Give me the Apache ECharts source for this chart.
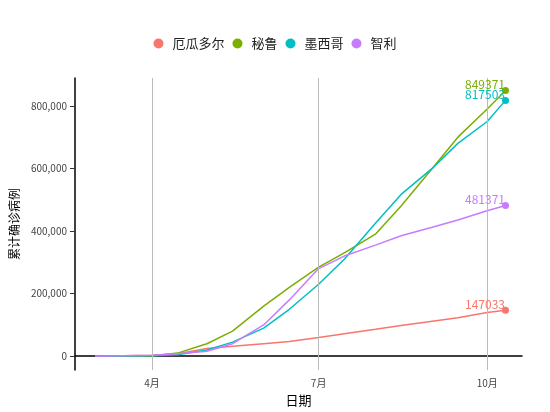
<!DOCTYPE html>
<html><head><meta charset="utf-8">
<script src="https://cdn.jsdelivr.net/npm/echarts@6/dist/echarts.min.js"></script>
<style>body{margin:0}#c{width:550px;height:412px}</style></head>
<body><div id="c"></div>
<script>
const dates = ['2020-03-01','2020-04-01','2020-04-15','2020-05-01','2020-05-15','2020-06-01','2020-06-15','2020-07-01','2020-07-15','2020-08-01','2020-08-15','2020-09-01','2020-09-15','2020-10-01','2020-10-11'];
const ecuador = [0,3000,8000,25000,32000,40000,47000,60000,72000,86000,98000,112000,123000,140000,147033];
const peru = [0,1000,10000,40000,80000,160000,220000,285000,330000,390000,480000,600000,700000,790000,849371];
const mexico = [0,1500,5000,20000,45000,90000,150000,230000,310000,425000,517000,600000,680000,750000,817503];
const chile = [0,3000,8000,16000,40000,100000,180000,280000,320000,355000,385000,412000,435000,465000,481371];
const names = ['厄瓜多尔','秘鲁','墨西哥','智利'];
const colors = ['#F8766D','#7CAE00','#00BFC4','#C77CFF'];
const yTicks = [0,200000,400000,600000,800000];
const xTicks = ['2020-04-01','2020-07-01','2020-10-01'];
const F = 'Noto Sans CJK SC';
const T = s => Date.parse(s+'T00:00:00Z');
const xt = xTicks.map(T);
const vals = [ecuador, peru, mexico, chile];
const series = vals.map((v,i)=>({
  name: names[i], type:'line', symbol:'none', color: colors[i],
  lineStyle:{width:1.5},
  data: dates.map((d,j)=>[T(d),v[j]]),
  markPoint: {symbol:'circle', symbolSize:7, itemStyle:{color:colors[i]},
    data:[{coord:[T(dates[dates.length-1]), v[v.length-1]], value:v[v.length-1]}],
    label:{show:true, position:'left', offset:[8,-6], color:colors[i], fontSize:12, fontFamily:F}},
  markLine: i===0 ? {silent:true, symbol:'none', label:{show:false}, lineStyle:{color:'#bbb', type:'solid', width:1},
    data: xt.map(t=>({xAxis:t}))} : undefined
}));
const ch = echarts.init(document.getElementById('c'));
ch.setOption({
  animation:false,
  textStyle:{fontFamily:F},
  legend:{top:32, left:'center', itemWidth:18, itemHeight:10, textStyle:{fontSize:13, color:'#222', fontFamily:F},
    data:names.map(n=>({name:n, icon:'circle'}))},
  grid:{left:66, right:28, top:78, bottom:38},
  xAxis:{type:'value', min:T('2020-02-19'), max:T('2020-10-20'), name:'日期', nameLocation:'middle', nameGap:24,
    nameTextStyle:{fontSize:13, color:'#000'},
    axisLine:{lineStyle:{color:'#000', width:1.5}}, splitLine:{show:false},
    axisTick:{customValues:xt, lineStyle:{color:'#333'}},
    axisLabel:{customValues:xt, formatter:v=>(new Date(v).getUTCMonth()+1)+'月', color:'#444', fontSize:10}},
  yAxis:{type:'value', min:-44000, max:889000, name:'累计确诊病例', nameLocation:'middle', nameGap:52,
    nameTextStyle:{fontSize:12, color:'#000'},
    axisLine:{show:true, lineStyle:{color:'#000', width:1.5}}, splitLine:{show:false},
    axisTick:{show:true, customValues:yTicks, lineStyle:{color:'#333'}},
    axisLabel:{customValues:yTicks, color:'#444', fontSize:10}},
  series
});
</script></body></html>
